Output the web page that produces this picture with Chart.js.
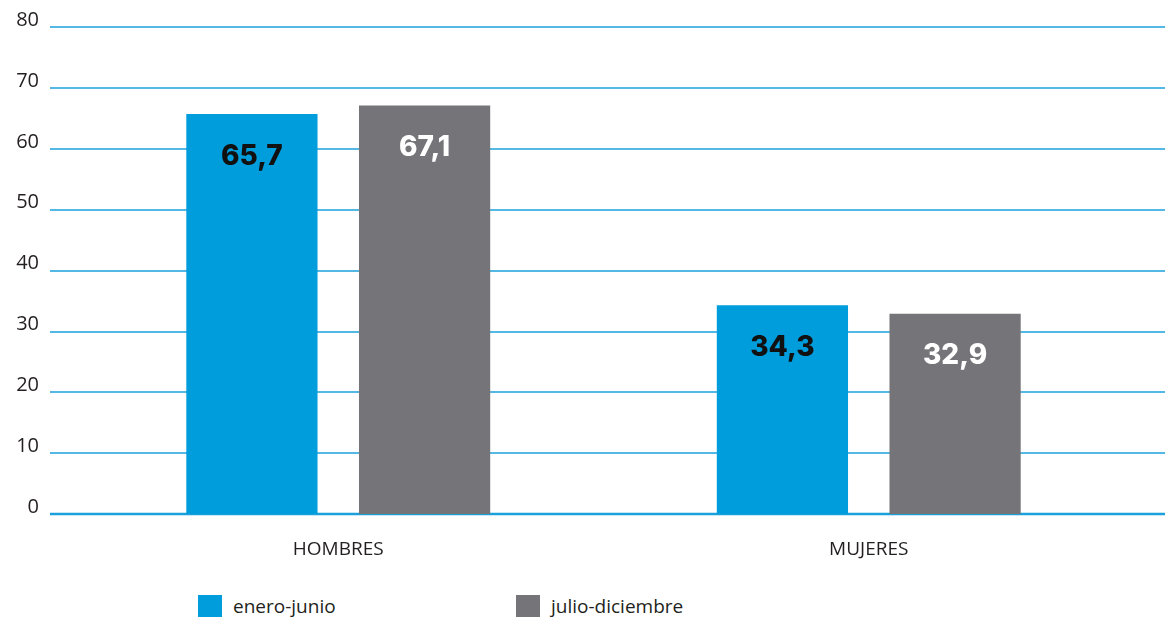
<!DOCTYPE html>
<html>
<head>
<meta charset="utf-8">
<script src="https://cdn.jsdelivr.net/npm/chart.js@4/dist/chart.umd.min.js"></script>
<style>
  body { margin: 0; background: #fff; overflow: hidden; }
  #wrap { position: absolute; left: 0; top: -19px; width: 1165px; height: 596px; }
  #legend { position: absolute; left: 198px; top: 593px; display: flex; font-family: "Open Sans", sans-serif; font-size: 19px; color: #231f20; }
  .item { display: flex; align-items: center; }
  .box { width: 24px; height: 23px; margin-right: 11px; }
</style>
</head>
<body>
<div id="wrap"><canvas id="chart"></canvas></div>
<div id="legend">
  <div class="item" style="width:318px"><span class="box" style="background:#009ddc"></span>enero-junio</div>
  <div class="item"><span class="box" style="background:#757479"></span>julio-diciembre</div>
</div>
<script>
const categories = ["HOMBRES", "MUJERES"];
const enero_junio = [65.7, 34.3];
const julio_diciembre = [67.1, 32.9];
const yTicks = [0, 10, 20, 30, 40, 50, 60, 70, 80];

// horizontal lines across the whole width, like the original
const fullGrid = {
  id: "fullGrid",
  beforeDatasetsDraw(chart) {
    const ctx = chart.ctx;
    const y = chart.scales.y;
    ctx.save();
    ctx.strokeStyle = "#1ba0db";
    yTicks.forEach(function (v) {
      const py = Math.round(y.getPixelForValue(v));
      ctx.lineWidth = v === 0 ? 2.5 : 1.5;
      ctx.beginPath();
      ctx.moveTo(50, py);
      ctx.lineTo(chart.width, py);
      ctx.stroke();
    });
    ctx.restore();
  }
};

// value labels inside the bars
const valueLabels = {
  id: "valueLabels",
  afterDatasetsDraw(chart) {
    const ctx = chart.ctx;
    ctx.save();
    ctx.font = "800 28px Inter, sans-serif";
    ctx.textAlign = "center";
    ctx.textBaseline = "middle";
    chart.data.datasets.forEach(function (ds, i) {
      chart.getDatasetMeta(i).data.forEach(function (bar, j) {
        ctx.fillStyle = i === 0 ? "#111" : "#fff";
        ctx.fillText(ds.data[j].toFixed(1).replace(".", ","), bar.x, bar.y + 42);
      });
    });
    ctx.restore();
  }
};

new Chart(document.getElementById("chart"), {
  type: "bar",
  data: {
    labels: categories,
    datasets: [
      {
        label: "enero-junio",
        data: enero_junio,
        backgroundColor: "#009ddc",
        categoryPercentage: 0.651,
        barPercentage: 0.76,
      },
      {
        label: "julio-diciembre",
        data: julio_diciembre,
        backgroundColor: "#757479",
        categoryPercentage: 0.651,
        barPercentage: 0.76,
      },
    ],
  },
  options: {
    responsive: true,
    maintainAspectRatio: false,
    animation: false,
    layout: { padding: { top: 0, right: 31, bottom: 0, left: 0 } },
    plugins: { legend: { display: false }, tooltip: { enabled: false } },
    scales: {
      x: {
        grid: { display: false },
        border: { display: false },
        ticks: { color: "#231f20", font: { family: "Open Sans", size: 19 }, padding: 16 },
      },
      y: {
        min: 0,
        max: 80,
        afterFit: function (scale) { scale.width = 73; },
        grid: { display: false, drawTicks: false },
        border: { display: false },
        ticks: {
          stepSize: 10,
          color: "#231f20",
          font: { family: "Open Sans", size: 20 },
          padding: 34,
          labelOffset: -7,
        },
      },
    },
  },
  plugins: [fullGrid, valueLabels],
});
</script>
</body>
</html>
